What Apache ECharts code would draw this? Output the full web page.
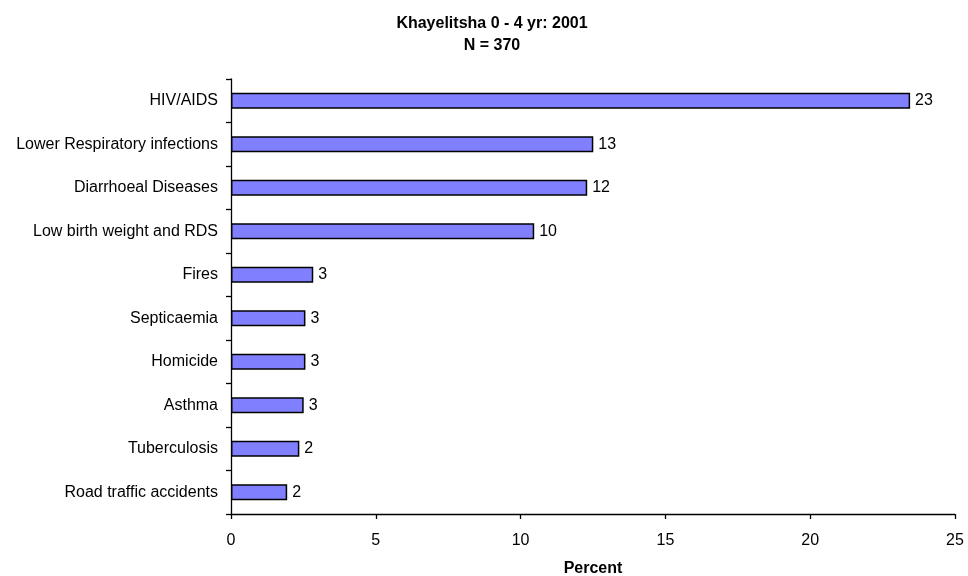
<!DOCTYPE html>
<html>
<head>
<meta charset="utf-8">
<script src="https://cdn.jsdelivr.net/npm/echarts@6/dist/echarts.min.js"></script>
<style>
html,body{margin:0;padding:0;background:#fff;}
#chart{width:968px;height:576px;}
</style>
</head>
<body>
<div id="chart"></div>
<script>
const titleText = 'Khayelitsha 0 - 4 yr: 2001\nN = 370';
const categories = ['HIV/AIDS','Lower Respiratory infections','Diarrhoeal Diseases','Low birth weight and RDS','Fires','Septicaemia','Homicide','Asthma','Tuberculosis','Road traffic accidents'];
const percentValues = [23.45, 12.51, 12.30, 10.47, 2.84, 2.57, 2.57, 2.51, 2.36, 1.94];
const xTicks = [0, 5, 10, 15, 20, 25];
const axisName = 'Percent';

const FONT = '"Liberation Sans", Arial, sans-serif';
const chart = echarts.init(document.getElementById('chart'), null, {renderer: 'canvas'});
chart.setOption({
  animation: false,
  backgroundColor: '#ffffff',
  title: {
    text: titleText,
    left: 487,
    top: 8,
    textAlign: 'center',
    textStyle: {fontFamily: FONT, fontSize: 16, fontWeight: 'bold', color: '#000', lineHeight: 22}
  },
  grid: {left: 231, right: 13, top: 79, bottom: 62, containLabel: false, outerBoundsMode: 'none'},
  xAxis: {
    type: 'value',
    min: xTicks[0],
    max: xTicks[xTicks.length - 1],
    interval: xTicks[1] - xTicks[0],
    name: axisName,
    nameLocation: 'middle',
    nameGap: 47,
    nameTextStyle: {fontFamily: FONT, fontSize: 16, fontWeight: 'bold', color: '#000'},
    axisLine: {show: true, lineStyle: {color: '#000', width: 1.3}},
    axisTick: {show: true, length: 5, lineStyle: {color: '#000', width: 1.3}},
    axisLabel: {fontFamily: FONT, fontSize: 16, color: '#000', margin: 19},
    splitLine: {show: false}
  },
  yAxis: {
    type: 'category',
    data: categories,
    inverse: true,
    axisLine: {show: true, lineStyle: {color: '#000', width: 1.3}},
    axisTick: {show: true, length: 5, lineStyle: {color: '#000', width: 1.3}},
    axisLabel: {fontFamily: FONT, fontSize: 16, color: '#000', margin: 13},
    splitLine: {show: false}
  },
  series: [{
    type: 'bar',
    data: percentValues,
    barCategoryGap: '63%',
    itemStyle: {color: '#8080ff', borderColor: '#000', borderWidth: 1.5},
    label: {
      show: true,
      position: 'right',
      distance: 5,
      fontFamily: FONT,
      fontSize: 16,
      color: '#000',
      formatter: p => String(Math.round(p.value))
    }
  }]
});
</script>
</body>
</html>
